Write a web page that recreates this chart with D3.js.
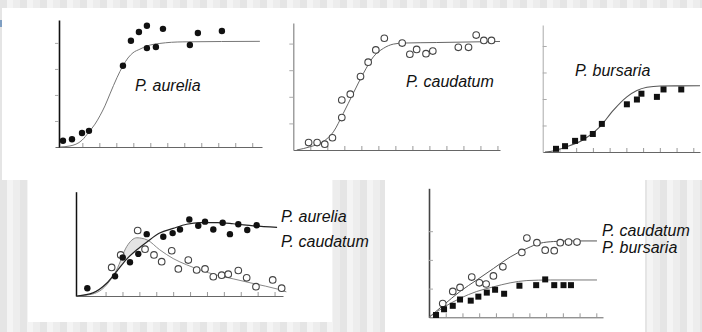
<!DOCTYPE html>
<html lang="en"><head>
  <meta charset="utf-8">
  <title>Gause competition experiments</title>
  <script type="text/javascript" src="https://cdn.jsdelivr.net/npm/d3@7"></script>
  <style>
   body { margin: 0; }
   text.species {
     font: italic 16px "Liberation Sans", Arial, sans-serif;
     fill: #111;
   }
  </style>
</head>
<body>
  <script type="text/javascript">
   //
   // Gause's Paramecium cultures
   // x = days, y = individuals (ticks every 50)
   //

   // P. aurelia alone
   var aureliaDays   = [0.47, 1.53, 2.71, 3.53, 7.53, 8.47, 9.41, 10.35, 10.35, 11.41, 12.24, 15.41, 16.35, 19.18];
   var aureliaCounts = [12, 15, 27, 31, 156, 204, 221, 233, 190, 192, 227, 196, 219, 223];
   var aureliaFitDays = [0.12, 1.29, 2.71, 3.53, 4.24, 4.82, 5.41, 6.0, 6.82, 7.53, 8.12, 8.71, 9.53, 10.35, 11.88, 14.59, 23.65];
   var aureliaFit     = [0, 2, 13, 29, 44, 60, 79, 102, 133, 156, 171, 181, 188, 194, 199, 202, 203];

   // P. caudatum alone
   var caudatumDays   = [1.8, 2.8, 3.7, 4.6, 5.7, 5.7, 6.7, 7.9, 8.8, 9.7, 10.7, 12.8, 13.7, 14.5, 15.6, 16.4, 19.4, 20.6, 21.5, 22.4, 23.3];
   var caudatumCounts = [14, 14, 11, 23, 61, 94, 105, 138, 165, 188, 210, 201, 180, 189, 181, 186, 193, 193, 216, 206, 206];
   var caudatumFitDays = [0.4, 1.96, 3.53, 4.71, 5.88, 7.06, 8.24, 9.41, 10.59, 11.76, 12.94, 16.87, 24.3];
   var caudatumFit     = [0, 6, 16, 34, 69, 107, 144, 175, 191, 199, 201, 202, 204];

   // P. bursaria alone
   var bursariaDays   = [1.59, 2.67, 3.87, 4.86, 5.99, 7.07, 10.06, 11.26, 11.8, 13.65, 14.44, 16.56];
   var bursariaCounts = [6, 11, 21, 27, 34, 53, 90, 99, 110, 104, 118, 118];
   var bursariaFitDays = [0.28, 0.87, 2.87, 4.86, 6.86, 8.46, 10.06, 11.26, 12.46, 14.05, 18.8];
   var bursariaFit     = [0, 1, 10, 23, 48, 79, 104, 116, 122, 124.5, 125];

   // P. aurelia + P. caudatum mixed
   var mixAureliaDays   = [1.34, 4.62, 5.53, 6.39, 7.37, 8.37, 10.33, 11.44, 12.31, 13.41, 14.47, 15.27, 16.25, 17.36, 18.22, 19.21, 20.27, 21.38];
   var mixAureliaCounts = [15, 38, 74, 65, 81, 119, 114, 121, 128, 147, 135, 143, 128, 141, 119, 138, 127, 136];
   var mixCaudatumDays   = [4.22, 5.29, 7.3, 8.17, 9.23, 10.14, 11.33, 12.11, 13.29, 14.28, 15.27, 16.25, 17.24, 18.02, 19.21, 20.2, 21.3, 23.28, 24.34];
   var mixCaudatumCounts = [55, 79, 126, 90, 79, 66, 87, 52, 69, 50, 52, 37, 40, 42, 49, 35, 18, 31, 15];
   var mixFitDays     = [0.1, 2.0, 3.6, 4.8, 6.0, 7.2, 8.4, 9.9, 11.5, 13.1, 14.7, 16.7, 18.6, 21.0, 23.8, 24.9];
   var mixAureliaFit  = [0, 6, 24, 47, 71, 89, 104, 121, 130, 138, 141, 141, 139, 135, 132, null];
   var mixCaudatumFit = [0, 4, 21, 50, 95, 112, 108, 89, 72, 60, 50, 40, 33, 24, 13.5, 8];

   // P. caudatum + P. bursaria mixed
   var mix2CaudatumDays   = [1.64, 2.84, 3.71, 5.11, 6.02, 6.83, 7.7, 8.83, 11.1, 11.7, 12.9, 13.89, 14.97, 15.69, 16.68, 17.69];
   var mix2CaudatumCounts = [24, 45, 52, 70, 60, 58, 72, 88, 113, 138, 130, 117, 116, 130, 131, 131];
   var mix2BursariaDays   = [0.84, 1.8, 2.84, 3.71, 4.99, 5.9, 6.91, 7.9, 8.98, 10.81, 12.81, 13.89, 14.97, 16.08, 16.97];
   var mix2BursariaCounts = [4, 14, 20, 31, 29, 36, 43, 48, 41, 55, 56, 66, 56, 56, 56];
   var mix2CaudatumFitDays = [0, 1.71, 3.71, 5.71, 7.7, 9.7, 11.7, 13.29, 14.89, 16.89, 20.08];
   var mix2CaudatumFit     = [0, 21, 45, 65, 85, 105, 120, 129, 132, 133, 133];
   var mix2BursariaFitDays = [0, 1.71, 3.71, 5.71, 7.7, 9.7, 11.7, 14.49, 20.08];
   var mix2BursariaFit     = [0, 17, 33, 45, 53, 60, 64, 65, 65];

   var countTicks = [50, 100, 150, 200];

   var width = 702;
   var height = 332;

   var svg = d3.select("body").append("svg")
               .attr("width", width)
               .attr("height", height);

   // striped slide background
   var pattern = svg.append("defs").append("pattern")
                    .attr("id", "stripes")
                    .attr("patternUnits", "userSpaceOnUse")
                    .attr("width", 20)
                    .attr("height", 10);
   pattern.append("rect").attr("width", 20).attr("height", 10).attr("fill", "#ededed");
   pattern.append("rect").attr("width", 7).attr("height", 10).attr("fill", "#e5e5e5");
   pattern.append("rect").attr("x", 7).attr("width", 6).attr("height", 10).attr("fill", "#f4f4f4");

   svg.append("rect")
      .attr("width", width)
      .attr("height", height)
      .attr("fill", "url(#stripes)");

   svg.append("rect")
      .attr("x", 0).attr("y", 20).attr("width", 2).attr("height", 7)
      .attr("fill", "#7f9fc2");

   // the three pasted scans
   [[2, 8, 700, 172], [28, 180, 304, 142], [385, 180, 260, 152]].forEach(function(c) {
     svg.append("rect")
        .attr("x", c[0]).attr("y", c[1])
        .attr("width", c[2]).attr("height", c[3])
        .attr("fill", "#fff");
   });

   var panels = [
     {xd: [-0.47, 23.9], xr: [55, 262],    yd: [0, 244],   yr: [147, 20],    xt: d3.range(2.75, 23, 2), yt: countTicks, side: 4,  axis: "#111", aw: 1.6},
     {xd: [0, 24.3],     xr: [293.3, 500], yd: [0, 238.7], yr: [150, 23],    xt: d3.range(2, 25, 2),    yt: countTicks, side: 4,  axis: "#888", aw: 1.2},
     {xd: [0, 18.8],     xr: [542.7, 700], yd: [0, 239.6], yr: [152, 25],    xt: d3.range(2, 19, 2),    yt: countTicks, side: -4, axis: "#aaa", aw: 1.0},
     {xd: [0, 24.5],     xr: [76, 283],    yd: [0, 200.6], yr: [296, 191.7], xt: d3.range(3.5, 24, 2),  yt: [],         side: 4,  axis: "#111", aw: 1.5},
     {xd: [0, 20.8],     xr: [429, 603],   yd: [0, 224.7], yr: [317.3, 188.3], xt: d3.range(2, 21, 2),  yt: [50, 100, 150], side: -4, axis: "#444", aw: 1.6}
   ];

   panels.forEach(function(p) {
     p.x = d3.scaleLinear().domain(p.xd).range(p.xr);
     p.y = d3.scaleLinear().domain(p.yd).range(p.yr);

     var xAxis = d3.axisBottom(p.x).tickValues(p.xt).tickSizeInner(-4).tickSizeOuter(0).tickFormat("");
     var gx = svg.append("g")
                 .attr("transform", "translate(0," + p.y(0) + ")")
                 .call(xAxis);
     gx.select(".domain").attr("stroke", "#666").attr("stroke-width", 1);
     gx.selectAll(".tick line").attr("stroke", "#999");

     var yAxis = d3.axisLeft(p.y).tickValues(p.yt).tickSizeInner(p.side).tickSizeOuter(0).tickFormat("");
     var gy = svg.append("g")
                 .attr("transform", "translate(" + p.x(0) + ",0)")
                 .call(yAxis);
     gy.select(".domain").attr("stroke", p.axis).attr("stroke-width", p.aw);
     gy.selectAll(".tick line").attr("stroke", "#aaa");
   });

   function zip(days, vals) {
     return days.map(function(d, i) { return [d, vals[i]]; });
   }

   function fit(p, days, vals, color, w) {
     var line = d3.line()
                  .defined(function(d) { return d[1] != null; })
                  .x(function(d) { return p.x(d[0]); })
                  .y(function(d) { return p.y(d[1]); })
                  .curve(d3.curveMonotoneX);
     svg.append("path")
        .datum(zip(days, vals))
        .attr("fill", "none")
        .attr("stroke", color)
        .attr("stroke-width", w)
        .attr("d", line);
   }

   function points(p, days, vals, kind) {
     var g = svg.append("g");
     var data = zip(days, vals);
     if (kind == "square") {
       g.selectAll("rect").data(data).enter().append("rect")
        .attr("x", function(d) { return p.x(d[0]) - 3; })
        .attr("y", function(d) { return p.y(d[1]) - 3; })
        .attr("width", 6)
        .attr("height", 6)
        .attr("fill", "#111");
     } else {
       g.selectAll("circle").data(data).enter().append("circle")
        .attr("cx", function(d) { return p.x(d[0]); })
        .attr("cy", function(d) { return p.y(d[1]); })
        .attr("r", kind == "dot" ? 3.2 : 3.3)
        .attr("fill", kind == "dot" ? "#111" : "#fff")
        .attr("stroke", kind == "dot" ? "none" : "#444")
        .attr("stroke-width", 1.1);
     }
   }

   function label(txt, x, y) {
     svg.append("text").attr("class", "species").attr("x", x).attr("y", y).text(txt);
   }

   var p1 = panels[0], p2 = panels[1], p3 = panels[2], p4 = panels[3], p5 = panels[4];

   fit(p1, aureliaFitDays, aureliaFit, "#777", 1);
   points(p1, aureliaDays, aureliaCounts, "dot");
   label("P. aurelia", 135, 91);

   fit(p2, caudatumFitDays, caudatumFit, "#666", 1);
   points(p2, caudatumDays, caudatumCounts, "ring");
   label("P. caudatum", 406, 87);

   fit(p3, bursariaFitDays, bursariaFit, "#555", 1.1);
   points(p3, bursariaDays, bursariaCounts, "square");
   label("P. bursaria", 575, 76);

   // shaded region where P. caudatum runs above P. aurelia
   var shade = d3.area()
                 .defined(function(d, i) { return mixAureliaFit[i] != null; })
                 .x(function(d) { return p4.x(d); })
                 .y0(function(d, i) { return p4.y(mixAureliaFit[i]); })
                 .y1(function(d, i) { return p4.y(Math.max(mixAureliaFit[i], mixCaudatumFit[i])); })
                 .curve(d3.curveMonotoneX);
   svg.append("path")
      .datum(mixFitDays)
      .attr("fill", "#e4e4e4")
      .attr("d", shade);

   fit(p4, mixFitDays, mixCaudatumFit, "#888", 1);
   fit(p4, mixFitDays, mixAureliaFit, "#222", 1.2);
   points(p4, mixCaudatumDays, mixCaudatumCounts, "ring");
   points(p4, mixAureliaDays, mixAureliaCounts, "dot");
   label("P. aurelia", 281, 222);
   label("P. caudatum", 281, 247);

   fit(p5, mix2CaudatumFitDays, mix2CaudatumFit, "#555", 1);
   fit(p5, mix2BursariaFitDays, mix2BursariaFit, "#777", 1);
   points(p5, mix2CaudatumDays, mix2CaudatumCounts, "ring");
   points(p5, mix2BursariaDays, mix2BursariaCounts, "square");
   label("P. caudatum", 602, 236);
   label("P. bursaria", 602, 253);

  </script>
</body></html>
